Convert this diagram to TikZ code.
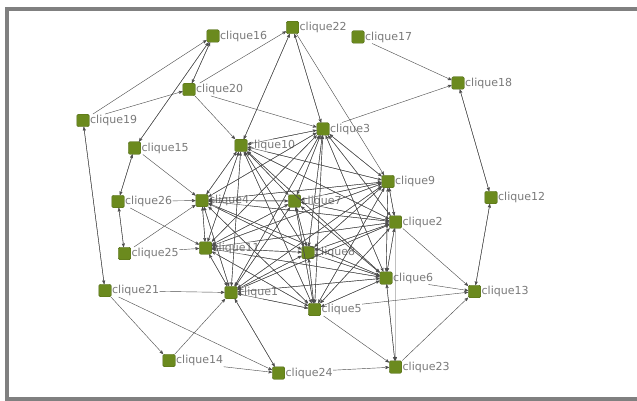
\documentclass[tikz,border=0pt]{standalone}
\usepackage{fontspec}
\setmainfont{DejaVu Sans}
\usetikzlibrary{arrows,intersections}

\definecolor{nodefill}{RGB}{107,138,30}
\definecolor{nodeline}{RGB}{82,106,22}
\definecolor{labgray}{RGB}{122,122,122}
\definecolor{edgegray}{RGB}{78,78,78}
\definecolor{framegray}{RGB}{128,128,128}

% link from the box of #2 (square + label) to the square of #3
\newcommand\lnk[3][->]{%
    \path [name path=ray] (s#2.center) -- (s#3.center);
    \draw [link, #1, name intersections={of=b#2 and ray, by=p}] (p) -- (s#3);
}

\begin{document}
\begin{tikzpicture}[x=1pt, y=-1pt, >=stealth',
    vtx/.style={draw=nodeline, fill=nodefill, rounded corners=1.5pt,
        minimum size=12.5pt, inner sep=0pt},
    lbl/.style={anchor=west, inner sep=0.5pt, text=labgray,
        font=\fontsize{11}{13}\selectfont},
    link/.style={draw=edgegray, line width=0.42pt},
    frame/.style={draw=framegray, line width=4pt}]

    \useasboundingbox (0,0) rectangle (637,401);
    \clip (0,0) rectangle (637,401);
    \fill [white] (0,0) rectangle (637,401);
    \draw [frame] (7,8.7) rectangle (700,399.3);

    % Nodes {clique1 ... clique26}
    \foreach \n/\x/\y in {1/231/292.5, 2/395.5/222, 3/323/129, 4/202/200.5,
        5/314.5/309.5, 6/386/278, 7/294.5/201, 8/308/252.5, 9/388/181.5,
        10/241/145.5, 11/205.5/248, 12/491/197.5, 13/474.5/291.5,
        14/169/360.5, 15/134.5/148, 16/213/36, 17/358/37, 18/458/83,
        19/83/120.5, 20/189/89.5, 21/105/290.5, 22/292.5/27.5,
        23/395.5/367, 24/278.5/373, 25/124.5/253.5, 26/118/201.5}{
        \node [vtx] (s\n) at (\x,\y) {};
        \node [lbl] (t\n) at (s\n.east) {clique\n};
        \path [name path global=b\n] (s\n.south west) rectangle (t\n.east |- s\n.north);
    }

    % Paths: dense core, every pair both ways
    \foreach \a in {1,...,11}{
        \foreach \b in {1,...,11}{
            \ifnum\a=\b\else\lnk{\a}{\b}\fi
        }
    }

    % Paths: one way
    \foreach \a/\b in {19/16, 19/20, 20/22, 20/10, 20/3, 22/9, 3/18, 17/18,
        2/13, 6/13, 5/13, 23/13, 2/23, 5/23, 24/23, 21/1, 21/24, 21/14,
        14/1, 14/24, 15/4, 26/4, 26/11, 25/11, 25/4}{
        \lnk{\a}{\b}
    }

    % Paths: both ways
    \foreach \a/\b in {16/20, 16/15, 22/10, 22/3, 18/12, 12/13, 6/23,
        19/21, 15/26, 26/25, 1/24}{
        \lnk{\a}{\b}
        \lnk{\b}{\a}
    }

\end{tikzpicture}
\end{document}
